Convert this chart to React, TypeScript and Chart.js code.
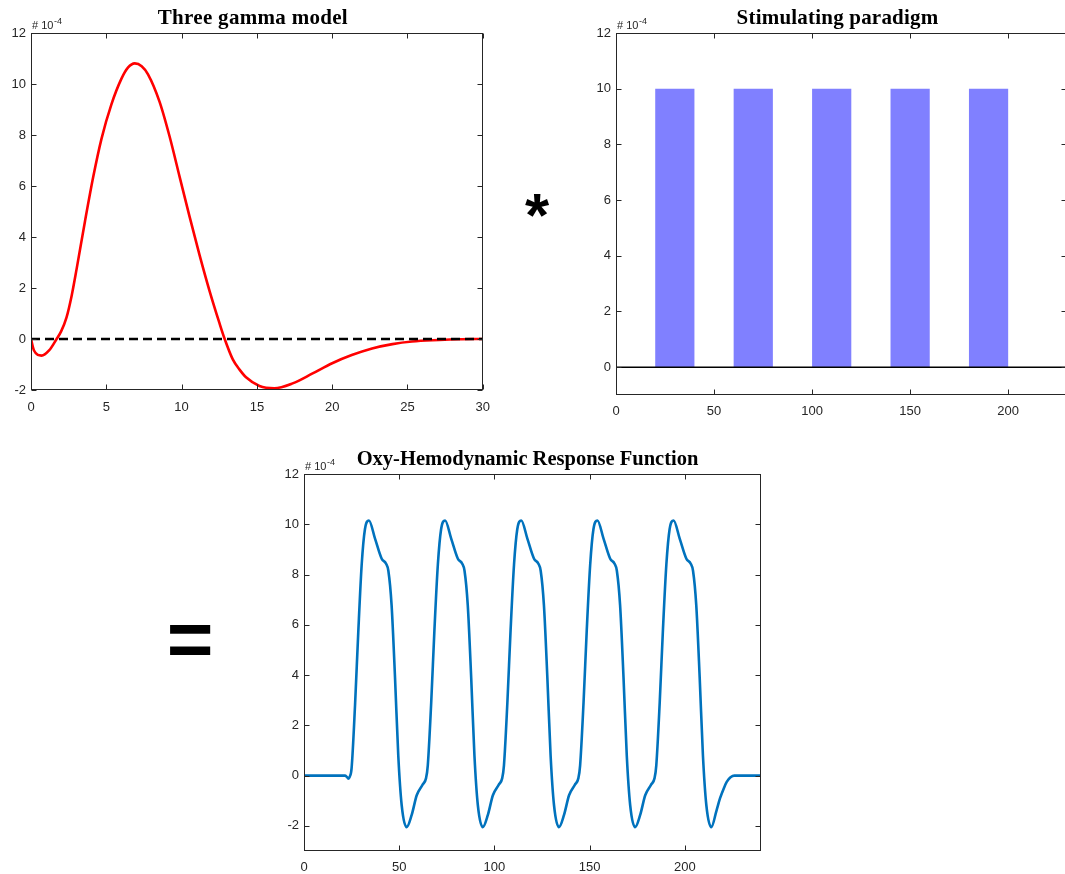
import React, { useEffect, useRef } from "react";
import { Chart, registerables } from "chart.js";
Chart.register(...registerables);

// ---------- Three gamma model (units of 1e-4) ----------
const gammaX = [0, 0.2, 0.7, 1.2, 1.7, 2.0, 2.36, 2.7, 3.03, 3.58, 4.13, 4.68, 5.34, 6.0, 6.45, 6.89, 7.35, 7.77, 8.54, 9.2, 9.87, 10.53, 11.19, 11.85, 12.5, 12.85, 13.4, 13.85, 14.28, 15.17, 16.16, 17.37, 18.7, 20.0, 21.3, 22.65, 24.0, 25.3, 27.1, 28.4, 30];
const gammaY = [0, -0.45, -0.65, -0.45, 0, 0.3, 0.85, 1.7, 2.75, 4.6, 6.35, 7.85, 9.2, 10.2, 10.65, 10.81, 10.7, 10.38, 9.3, 7.95, 6.36, 4.8, 3.3, 1.9, 0.65, 0.02, -0.8, -1.2, -1.5, -1.84, -1.93, -1.74, -1.35, -0.95, -0.63, -0.37, -0.2, -0.1, -0.04, -0.01, 0];
const gammaZeroX = [0, 30];
const gammaZeroY = [0, 0];
const gammaXTicks = [0, 5, 10, 15, 20, 25, 30];
const gammaYTicks = [-2, 0, 2, 4, 6, 8, 10, 12];

// ---------- Stimulating paradigm ----------
const stimOnsets = [20, 60, 100, 140, 180];
const stimDuration = 20;
const stimAmplitude = 10;
const stimXMax = 230;
const stimXTicks = [0, 50, 100, 150, 200];
const stimYTicks = [0, 2, 4, 6, 8, 10, 12];

// ---------- Oxy-HRF response (units of 1e-4) ----------
const hrfX = [
  0, 21.5, 22.5, 23.3, 24.0, 25.0, 26.8, 28.5, 30.3, 32.0, 34.1, 37.3, 40.8, 43.1, 44.3, 46.0, 47.8, 49.5, 51.3, 53.9, 56.6, 59.2,
  62.3, 64.1, 65.0, 66.8, 68.5, 70.3, 72.0, 74.1, 77.3, 80.8, 83.1, 84.3, 86.0, 87.8, 89.5, 91.3, 93.9, 96.6, 99.2,
  102.3, 104.1, 105.0, 106.8, 108.5, 110.3, 112.0, 114.1, 117.3, 120.8, 123.1, 124.3, 126.0, 127.8, 129.5, 131.3, 133.9, 136.6, 139.2,
  142.3, 144.1, 145.0, 146.8, 148.5, 150.3, 152.0, 154.1, 157.3, 160.8, 163.1, 164.3, 166.0, 167.8, 169.5, 171.3, 173.9, 176.6, 179.2,
  182.3, 184.1, 185.0, 186.8, 188.5, 190.3, 192.0, 194.1, 197.3, 200.8, 203.1, 204.3, 206.0, 207.8, 209.5, 211.3, 213.9,
  216.6, 218.5, 220.5, 222.0, 224.0, 226.0, 240,
];
const hrfY = [
  0, 0, -0.05, -0.12, -0.05, 0.3, 2.8, 5.7, 8.4, 9.8, 10.15, 9.43, 8.63, 8.43, 8.15, 6.78, 3.9, 0.81, -1.18, -2.05, -1.55, -0.78,
  -0.36, -0.1, 0.4, 2.9, 5.8, 8.4, 9.8, 10.15, 9.43, 8.63, 8.43, 8.15, 6.78, 3.9, 0.81, -1.18, -2.05, -1.55, -0.78,
  -0.36, -0.1, 0.4, 2.9, 5.8, 8.4, 9.8, 10.15, 9.43, 8.63, 8.43, 8.15, 6.78, 3.9, 0.81, -1.18, -2.05, -1.55, -0.78,
  -0.36, -0.1, 0.4, 2.9, 5.8, 8.4, 9.8, 10.15, 9.43, 8.63, 8.43, 8.15, 6.78, 3.9, 0.81, -1.18, -2.05, -1.55, -0.78,
  -0.36, -0.1, 0.4, 2.9, 5.8, 8.4, 9.8, 10.15, 9.43, 8.63, 8.43, 8.15, 6.78, 3.9, 0.81, -1.18, -2.05,
  -1.4, -0.9, -0.5, -0.25, -0.07, 0, 0,
];
const hrfXTicks = [0, 50, 100, 150, 200];
const hrfYTicks = [-2, 0, 2, 4, 6, 8, 10, 12];

const AXIS_COLOR = "#262626";
const TICK_FONT = { family: "Liberation Sans", size: 13 };

const zip = (xs: number[], ys: number[]) => xs.map((x, i) => ({ x, y: ys[i] }));

function axis(min: number, max: number, ticks: number[], size: number, pad: number, isX: boolean) {
  return {
    type: "linear",
    min,
    max,
    grid: { display: false, drawTicks: false },
    border: { display: false },
    ticks: { color: AXIS_COLOR, font: TICK_FONT, padding: pad, maxRotation: 0, autoSkip: false },
    afterBuildTicks: (s: any) => {
      s.ticks = ticks.map((v) => ({ value: v }));
    },
    afterFit: (s: any) => {
      if (isX) s.height = size;
      else s.width = size;
    },
  };
}

const matlabFrame = {
  id: "matlabFrame",
  afterDraw(chart: any, _args: any, opts: any) {
    const { ctx, chartArea: a, scales } = chart;
    const x = scales.x;
    const y = scales.y;
    ctx.save();
    ctx.strokeStyle = AXIS_COLOR;
    ctx.lineWidth = 1;
    const l = Math.round(a.left) + 0.5;
    const r = Math.round(a.right) - 0.5;
    const t = Math.round(a.top) + 0.5;
    const b = Math.round(a.bottom) - 0.5;
    ctx.strokeRect(l, t, r - l, b - t);
    const L = 5;
    ctx.beginPath();
    for (const tk of x.ticks) {
      const px = Math.round(x.getPixelForValue(tk.value)) + 0.5;
      ctx.moveTo(px, b);
      ctx.lineTo(px, b - L);
      ctx.moveTo(px, t);
      ctx.lineTo(px, t + L);
    }
    for (const tk of y.ticks) {
      const py = Math.round(y.getPixelForValue(tk.value)) + 0.5;
      ctx.moveTo(l, py);
      ctx.lineTo(l + L, py);
      ctx.moveTo(r, py);
      ctx.lineTo(r - L, py);
    }
    ctx.stroke();

    // exponent label
    ctx.fillStyle = AXIS_COLOR;
    ctx.textAlign = "left";
    ctx.textBaseline = "alphabetic";
    ctx.font = '11px "Liberation Sans"';
    const base = a.top - 4;
    ctx.fillText("# 10", a.left + 1, base);
    const w = ctx.measureText("# 10").width;
    ctx.font = '9px "Liberation Sans"';
    ctx.fillText("-4", a.left + 1 + w + 0.5, base - 5);

    // title
    ctx.fillStyle = "#000";
    ctx.textAlign = "center";
    ctx.font = `bold ${opts.size || 21}px "Liberation Serif"`;
    (ctx as any).letterSpacing = opts.spacing || "0px";
    ctx.fillText(opts.title, (a.left + a.right) / 2 + (opts.dx || 0), a.top - 9);
    ctx.restore();
  },
};

function useChart(ref: React.RefObject<HTMLCanvasElement>, makeConfig: () => any) {
  useEffect(() => {
    if (!ref.current) return;
    const chart = new Chart(ref.current, makeConfig());
    return () => chart.destroy();
  }, []);
}

const lineDefaults = {
  pointRadius: 0,
  pointHoverRadius: 0,
  cubicInterpolationMode: "monotone",
  fill: false,
};

export default function App() {
  const c1 = useRef<HTMLCanvasElement>(null);
  const c2 = useRef<HTMLCanvasElement>(null);
  const c3 = useRef<HTMLCanvasElement>(null);

  useChart(c1, () => ({
    type: "line",
    data: {
      datasets: [
        { ...lineDefaults, data: zip(gammaZeroX, gammaZeroY), borderColor: "#000", borderWidth: 2.5, borderDash: [9, 5], order: 0 },
        { ...lineDefaults, data: zip(gammaX, gammaY), borderColor: "#ff0000", borderWidth: 2.6, order: 1 },
      ],
    },
    options: {
      animation: false,
      responsive: false,
      devicePixelRatio: 1,
      layout: { padding: { left: 0, top: 33, right: 16, bottom: 0 } },
      plugins: { legend: { display: false }, tooltip: { enabled: false }, matlabFrame: { title: "Three gamma model", dx: -4, size: 21, spacing: "0.3px" } },
      scales: {
        x: axis(0, 30, gammaXTicks, 30, 10, true),
        y: axis(-2, 12, gammaYTicks, 31, 5, false),
      },
    },
    plugins: [matlabFrame],
  }));

  useChart(c2, () => {
    const pts: { x: number; y: number }[] = [{ x: 0, y: 0 }];
    stimOnsets.forEach((on) => {
      pts.push({ x: on, y: 0 }, { x: on, y: stimAmplitude }, { x: on + stimDuration, y: stimAmplitude }, { x: on + stimDuration, y: 0 });
    });
    pts.push({ x: stimXMax, y: 0 });
    return {
      type: "line",
      data: {
        datasets: [
          { ...lineDefaults, cubicInterpolationMode: "default", tension: 0, data: zip([0, stimXMax], [0, 0]), borderColor: "#000", borderWidth: 1.5, order: 0 },
          { ...lineDefaults, cubicInterpolationMode: "default", tension: 0, data: pts, borderWidth: 0, borderColor: "rgba(0,0,0,0)", backgroundColor: "#8080ff", fill: "origin", order: 1 },
        ],
      },
      options: {
        animation: false,
        responsive: false,
        devicePixelRatio: 1,
        layout: { padding: { left: 0, top: 33, right: 13, bottom: 0 } },
        plugins: { legend: { display: false }, tooltip: { enabled: false }, filler: { propagate: false }, matlabFrame: { title: "Stimulating paradigm", dx: -4, size: 21, spacing: "0.2px" } },
        scales: {
          x: axis(0, stimXMax, stimXTicks, 25, 9, true),
          y: axis(-1, 12, stimYTicks, 36, 5, false),
        },
      },
      plugins: [matlabFrame],
    };
  });

  useChart(c3, () => ({
    type: "line",
    data: {
      datasets: [{ ...lineDefaults, data: zip(hrfX, hrfY), borderColor: "#0072BD", borderWidth: 2.6 }],
    },
    options: {
      animation: false,
      responsive: false,
      devicePixelRatio: 1,
      layout: { padding: { left: 0, top: 34, right: 29, bottom: 0 } },
      plugins: { legend: { display: false }, tooltip: { enabled: false }, matlabFrame: { title: "Oxy-Hemodynamic Response Function", dx: -5, size: 20.5, spacing: "0px" } },
      scales: {
        x: axis(0, 240, hrfXTicks, 23, 9, true),
        y: axis(-3, 12, hrfYTicks, 34, 5, false),
      },
    },
    plugins: [matlabFrame],
  }));

  const abs = (left: number, top: number): React.CSSProperties => ({ position: "absolute", left, top, display: "block" });

  return (
    <div style={{ position: "fixed", left: 0, top: 0, width: 1065, height: 874, overflow: "hidden", background: "#fff" }}>
      <canvas ref={c1} width={500} height={420} style={abs(0, 0)} />
      <canvas ref={c2} width={500} height={420} style={abs(580, 0)} />
      <canvas ref={c3} width={520} height={434} style={abs(270, 440)} />
      <span
        style={{ position: "absolute", left: 507, top: 184, width: 60, textAlign: "center", font: 'bold 62px "Liberation Sans"', lineHeight: "62px", color: "#000" }}
      >
        *
      </span>
      <span
        style={{ position: "absolute", left: 150, top: 599, width: 80, textAlign: "center", font: 'bold 80px "Liberation Sans"', lineHeight: "80px", color: "#000" }}
      >
        =
      </span>
    </div>
  );
}
